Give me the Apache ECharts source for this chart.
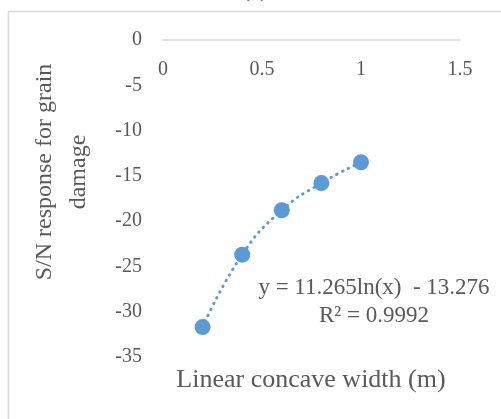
<!DOCTYPE html>
<html>
<head>
<meta charset="utf-8">
<script src="https://cdn.jsdelivr.net/npm/echarts@6/dist/echarts.min.js"></script>
<style>
  html, body { margin: 0; padding: 0; background: #fff; }
  #chart { width: 501px; height: 419px; }
</style>
</head>
<body>
<div id="chart"></div>
<script>
// Linear concave width (m) and S/N response for grain damage
const widths = [0.2, 0.4, 0.6, 0.8, 1.0];
const snResponse = [-31.7, -23.7, -18.8, -15.8, -13.5];
const xTicks = [0, 0.5, 1, 1.5];
const yTicks = [0, -5, -10, -15, -20, -25, -30, -35];
const equationLine = 'y = 11.265ln(x)  - 13.276';
const r2Line = 'R² = 0.9992';

const serif = '"Liberation Serif", "Times New Roman", serif';
const textGray = '#595959';
const blue = '#5b9bd5';

const points = widths.map((w, i) => [w, snResponse[i]]);

const chart = echarts.init(document.getElementById('chart'), null, { renderer: 'canvas' });
chart.setOption({
  backgroundColor: '#fff',
  animation: false,
  grid: { left: 163, right: 41, top: 40, bottom: 62 },
  xAxis: {
    type: 'value',
    position: 'top',
    min: xTicks[0],
    max: xTicks[xTicks.length - 1],
    interval: 0.5,
    axisLine: { onZero: false, lineStyle: { color: '#d9d9d9', width: 1.5 } },
    axisTick: { show: false },
    splitLine: { show: false },
    axisLabel: { inside: true, color: textGray, fontFamily: serif, fontSize: 20, margin: 20 }
  },
  yAxis: {
    type: 'value',
    min: yTicks[yTicks.length - 1],
    max: yTicks[0],
    interval: 5,
    axisLine: { show: false },
    axisTick: { show: false },
    splitLine: { show: false },
    axisLabel: { color: textGray, fontFamily: serif, fontSize: 20, margin: 21 }
  },
  series: [
    {
      // dotted trend through the measured points
      type: 'line',
      data: points,
      smooth: 0.5,
      symbol: 'none',
      lineStyle: { color: blue, width: 3, type: [0.5, 6], cap: 'round' },
      z: 1
    },
    {
      type: 'scatter',
      data: points,
      symbolSize: 16,
      itemStyle: { color: blue, opacity: 1 },
      z: 2
    }
  ],
  graphic: [
    {
      type: 'rect',
      shape: { x: 8.5, y: 11.5, width: 700, height: 700 },
      style: { fill: 'none', stroke: '#d9d9d9', lineWidth: 1.5 },
      silent: true
    },
    {
      type: 'text',
      x: 255, y: 2,
      style: { text: '(c)', fill: textGray, font: '22px ' + serif, textAlign: 'center', textVerticalAlign: 'bottom' }
    },
    {
      type: 'text',
      x: 62, y: 172,
      rotation: Math.PI / 2,
      style: {
        text: 'S/N response for grain\ndamage',
        fill: textGray,
        font: '24px ' + serif,
        lineHeight: 34,
        textAlign: 'center',
        textVerticalAlign: 'middle'
      }
    },
    {
      type: 'text',
      x: 311, y: 380,
      style: { text: 'Linear concave width (m)', fill: textGray, font: '26px ' + serif, textAlign: 'center', textVerticalAlign: 'middle' }
    },
    {
      type: 'text',
      x: 374, y: 288,
      style: { text: equationLine, fill: textGray, font: '23px ' + serif, textAlign: 'center', textVerticalAlign: 'middle' }
    },
    {
      type: 'text',
      x: 374, y: 316,
      style: { text: r2Line, fill: textGray, font: '23px ' + serif, textAlign: 'center', textVerticalAlign: 'middle' }
    }
  ]
});
</script>
</body>
</html>
